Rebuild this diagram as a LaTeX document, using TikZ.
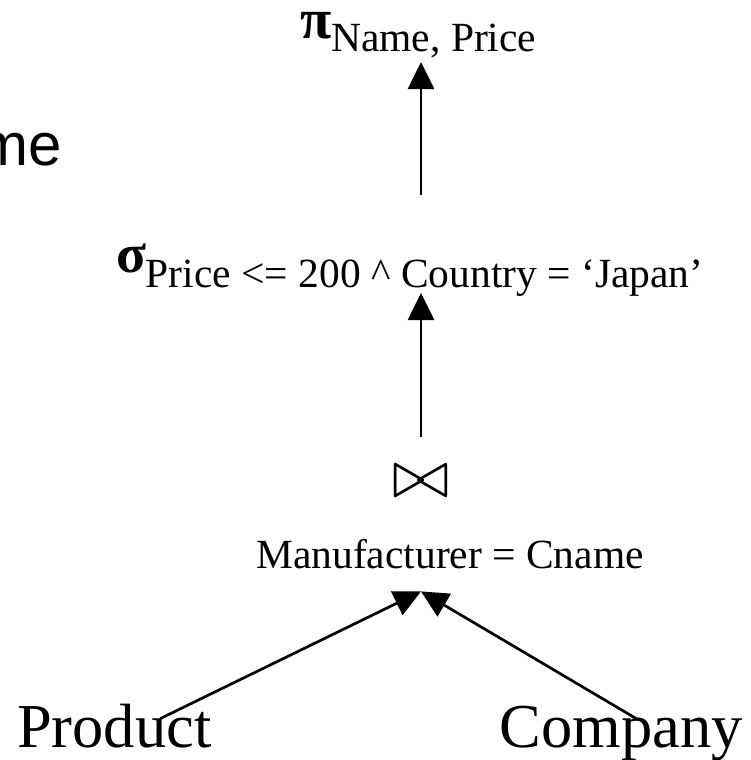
\documentclass[tikz,border=0pt]{standalone}
\usepackage{fontspec}
\setmainfont{Liberation Serif}
\newfontfamily\sansfam{Liberation Sans}
\usetikzlibrary{arrows.meta}
\newcommand\greeksym[2]{{\fontsize{#1}{60}\selectfont\bfseries #2}}
\newcommand\subsz{\fontsize{41.5}{48}\selectfont}
\begin{document}
\begin{tikzpicture}[x=1pt,y=-1pt,
  lbl/.style={inner sep=0pt, outer sep=0pt},
  arr/.style={line width=2.7pt, -{Triangle[length=27pt,width=26pt]}},
  ]
\useasboundingbox (0,0) rectangle (750,760);

% fragment of a caption running off the left edge
\node[lbl, anchor=base east, font=\sansfam\fontsize{60}{70}\selectfont] (frag) at (62,165) {me};

% operator nodes of the query plan
\node[lbl, anchor=base west, text depth=19pt] (proj) at (300,39)
  {\greeksym{57}{π}\raisebox{-13pt}{\subsz Name, Price}};
\node[lbl, anchor=base west, text height=28pt, text depth=24pt] (sel) at (116,272)
  {\greeksym{55}{σ}\raisebox{-15pt}{\subsz Price <= 200 \textasciicircum{} Country = `Japan'}};
\node[lbl, scale=6.8] (join) at (421,482) {$\bowtie$};
\node[lbl, anchor=base, font=\subsz] (cond) at (450,568) {Manufacturer = Cname};

% base relations
\node[lbl, anchor=base west, font=\fontsize{62.5}{70}\selectfont] (prod) at (17,747) {Product};
\node[lbl, anchor=base east, font=\fontsize{62.5}{70}\selectfont] (comp) at (743,747) {Company};

% edges
\draw[arr, shorten <=49pt, shorten >=4pt] (sel.north -| join.center) -- (proj.south -| join.center);
\draw[arr, shorten <=29.5pt, shorten >=-3pt] (join.north) -- (sel.south -| join.center);
\draw[arr] ([xshift=46pt, yshift=-15pt]prod.north) -- ([xshift=-29pt, yshift=-23pt]cond.south);
\draw[arr] ([xshift=16.5pt, yshift=-14pt]comp.north) -- ([xshift=-29pt, yshift=-23pt]cond.south);
\end{tikzpicture}
\end{document}
